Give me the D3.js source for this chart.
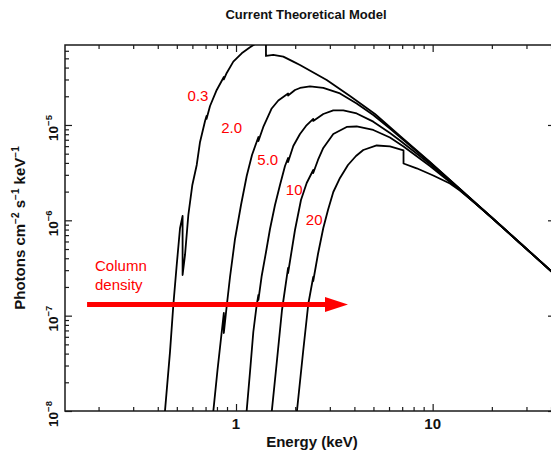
<!DOCTYPE html>
<html>
<head>
<meta charset="utf-8">
<script src="https://cdn.jsdelivr.net/npm/d3@7"></script>
<style>
  body { margin: 0; background: #fff; }
  text { font-family: "Liberation Sans", Arial, Helvetica, sans-serif; }
</style>
</head>
<body>
<svg id="chart" width="551" height="455"></svg>
<script>
// Absorbed power-law model spectra, one per column density (10^22 cm^-2).
// Each point: [energy keV, photons cm^-2 s^-1 keV^-1]
const columnDensities = ["0.3", "2.0", "5.0", "10", "20"];

const spectrumNH03 = [
  [0.4305, 7.66e-9], [0.4618, 4.19e-8], [0.480, 1.294e-7], [0.4994, 3.40e-7],
  [0.5191, 8.25e-7], [0.535, 1.110e-6], [0.535, 2.671e-7], [0.5504, 4.33e-7],
  [0.5722, 1.137e-6], [0.5997, 2.348e-6], [0.6313, 3.805e-6], [0.6562, 6.63e-6],
  [0.6959, 1.1015e-5], [0.708, 1.243e-5], [0.708, 1.156e-5], [0.7377, 1.582e-5],
  [0.7979, 2.329e-5], [0.867, 3.188e-5], [0.867, 3.001e-5], [0.8969, 3.511e-5],
  [0.9689, 4.614e-5], [1.069, 5.651e-5], [1.178, 6.533e-5], [1.274, 7.246e-5],
  [1.356, 7.423e-5], [1.42, 7.335e-5], [1.42, 5.293e-5], [1.547, 5.423e-5],
  [1.740, 5.204e-5], [1.956, 4.614e-5], [2.115, 4.260e-5], [2.892, 2.965e-5],
  [3.798, 2.015e-5], [5.090, 1.304e-5], [6.821, 7.665e-6], [9.689, 4.091e-6],
  [13.76, 2.131e-6]
];

const spectrumNH2 = [
  [0.7568, 7.66e-9], [0.8052, 2.692e-8], [0.867, 1.066e-7], [0.867, 6.58e-8],
  [0.8969, 1.263e-7], [0.9322, 2.544e-7], [0.9884, 6.37e-7], [1.0603, 1.448e-6],
  [1.1334, 2.918e-6], [1.206, 4.845e-6], [1.30, 7.484e-6], [1.30, 6.795e-6],
  [1.3764, 9.529e-6], [1.4327, 1.142e-5], [1.5187, 1.4895e-5], [1.6409, 1.807e-5],
  [1.84, 2.140e-5], [1.84, 2.039e-5], [1.995, 2.329e-5], [2.1152, 2.444e-5],
  [2.378, 2.5345e-5], [2.779, 2.444e-5], [3.379, 2.140e-5], [4.108, 1.6805e-5],
  [4.989, 1.273e-5], [6.066, 9.19e-6], [6.821, 7.484e-6], [9.689, 4.042e-6],
  [13.76, 2.131e-6]
];

const spectrumNH5 = [
  [1.1202, 7.66e-9], [1.1781, 2.564e-8], [1.2245, 6.739e-8], [1.2741, 1.294e-7],
  [1.30, 1.647e-7], [1.30, 1.460e-7], [1.3509, 2.607e-7], [1.421, 4.653e-7],
  [1.4888, 8.11e-7], [1.5785, 1.448e-6], [1.6737, 2.348e-6], [1.7747, 3.715e-6],
  [1.84, 4.506e-6], [1.84, 4.091e-6], [1.9557, 6.022e-6], [2.1152, 8.046e-6],
  [2.2692, 9.761e-6], [2.47, 1.156e-5], [2.47, 1.1015e-5], [2.7789, 1.304e-5],
  [3.1242, 1.4196e-5], [3.5125, 1.4196e-5], [4.1084, 1.3203e-5], [4.9894, 1.083e-5],
  [6.0661, 8.243e-6], [6.821, 6.878e-6], [9.689, 3.898e-6], [13.76, 2.105e-6]
];

const spectrumNH10 = [
  [1.501, 7.66e-9], [1.6066, 3.037e-8], [1.7134, 1.1465e-7], [1.84, 3.162e-7],
  [1.84, 2.802e-7], [1.995, 7.917e-7], [2.140, 1.634e-6], [2.288, 2.464e-6],
  [2.47, 3.373e-6], [2.47, 3.137e-6], [2.6115, 4.294e-6], [2.7789, 5.738e-6],
  [3.1242, 8.046e-6], [3.654, 9.529e-6], [4.1084, 9.644e-6], [4.9894, 8.862e-6],
  [6.0661, 7.395e-6], [7.11, 5.950e-6], [9.689, 3.715e-6], [13.76, 2.080e-6]
];

const spectrumNH20 = [
  [2.0138, 7.66e-9], [2.1987, 4.363e-8], [2.3312, 1.325e-7], [2.47, 2.544e-7],
  [2.47, 2.310e-7], [2.6115, 4.435e-7], [2.7789, 8.308e-7], [2.9362, 1.283e-6],
  [3.1242, 1.982e-6], [3.3793, 2.780e-6], [3.7103, 3.805e-6], [4.0746, 4.730e-6],
  [4.438, 5.467e-6], [5.192, 6.095e-6], [6.0661, 5.950e-6], [7.11, 5.401e-6],
  [7.11, 3.946e-6], [8.2926, 3.514e-6], [10.07, 2.953e-6], [12.243, 2.434e-6],
  [13.76, 2.055e-6], [16.41, 1.520e-6]
];

// Common unabsorbed power-law tail at high energies
const sharedTail = [[19.56, 1.110e-6], [27.79, 5.784e-7], [44.38, 2.424e-7]];

// Where each column-density label sits (energy, flux)
const labelAnchors = [[0.641, 1.80e-5], [0.951, 8.30e-6], [1.451, 3.805e-6], [1.976, 1.844e-6], [2.498, 8.93e-7]];

// "Column density" arrow
const arrowStart = [0.1748, 1.31e-7];
const arrowEnd = [3.71, 1.31e-7];
const arrowCaption = ["Column", "density"];
const arrowCaptionAnchor = [0.1919, 2.94e-7];

const xMajorTicks = [1, 10];
const xTickLabels = ["1", "10"];
const yMajorTicks = [1e-8, 1e-7, 1e-6, 1e-5];
const yTickExponents = ["\u22128", "\u22127", "\u22126", "\u22125"];

const energyDomain = [0.135, 41.9];
const fluxDomain = [1e-8, 6.9e-5];

const frame = { left: 65, right: 555, top: 45, bottom: 411 };

const svg = d3.select("#chart");

const x = d3.scaleLog().domain(energyDomain).range([frame.left, frame.right]);
const y = d3.scaleLog().domain(fluxDomain).range([frame.bottom, frame.top]);

// Minor ticks at 2..9 times each decade
function minorTicks(domain) {
  const out = [];
  const lo = Math.floor(Math.log10(domain[0]));
  const hi = Math.ceil(Math.log10(domain[1]));
  for (let d = lo; d <= hi; d++) {
    for (let k = 2; k <= 9; k++) {
      const v = k * Math.pow(10, d);
      if (v >= domain[0] && v <= domain[1]) out.push(v);
    }
  }
  return out;
}
const xMinor = minorTicks(energyDomain);
const yMinor = minorTicks(fluxDomain);

const tickColor = "#1a1a1a";

function styleAxis(g) {
  g.select(".domain").remove();
  g.selectAll(".tick line").attr("stroke", tickColor).attr("stroke-width", 1.2);
  g.selectAll(".tick text").remove();
}

// Bottom / top axes (ticks point inward)
svg.append("g").attr("transform", `translate(0,${frame.bottom})`)
  .call(d3.axisBottom(x).tickValues(xMinor).tickSize(-4)).call(styleAxis);
svg.append("g").attr("transform", `translate(0,${frame.bottom})`)
  .call(d3.axisBottom(x).tickValues(xMajorTicks).tickSize(-7)).call(styleAxis);
svg.append("g").attr("transform", `translate(0,${frame.top})`)
  .call(d3.axisTop(x).tickValues(xMinor).tickSize(-4)).call(styleAxis);
svg.append("g").attr("transform", `translate(0,${frame.top})`)
  .call(d3.axisTop(x).tickValues(xMajorTicks).tickSize(-7)).call(styleAxis);

// Left / right axes
svg.append("g").attr("transform", `translate(${frame.left},0)`)
  .call(d3.axisLeft(y).tickValues(yMinor).tickSize(-4)).call(styleAxis);
svg.append("g").attr("transform", `translate(${frame.left},0)`)
  .call(d3.axisLeft(y).tickValues(yMajorTicks).tickSize(-7)).call(styleAxis);
svg.append("g").attr("transform", `translate(${frame.right},0)`)
  .call(d3.axisRight(y).tickValues(yMinor).tickSize(-4)).call(styleAxis);
svg.append("g").attr("transform", `translate(${frame.right},0)`)
  .call(d3.axisRight(y).tickValues(yMajorTicks).tickSize(-7)).call(styleAxis);

// Plot frame
svg.append("rect")
  .attr("x", frame.left).attr("y", frame.top)
  .attr("width", frame.right - frame.left).attr("height", frame.bottom - frame.top)
  .attr("fill", "none").attr("stroke", tickColor).attr("stroke-width", 1.5);

// X tick labels
svg.append("g").selectAll("text").data(xMajorTicks).join("text")
  .attr("x", d => x(d)).attr("y", frame.bottom + 17.5)
  .attr("text-anchor", "middle").attr("font-size", 15).attr("font-weight", "bold")
  .attr("fill", "#111")
  .text((d, i) => xTickLabels[i]);

// Y tick labels: 10 with a superscript exponent, rotated
const yLab = svg.append("g").selectAll("text").data(yMajorTicks).join("text")
  .attr("transform", d => `translate(${frame.left - 7},${y(d) + 3}) rotate(-90)`)
  .attr("text-anchor", "middle").attr("font-size", 13.5).attr("font-weight", "bold")
  .attr("fill", "#111");
yLab.append("tspan").text("10");
yLab.append("tspan").attr("font-size", 9.5).attr("dy", -6).text((d, i) => yTickExponents[i]);

// Curves
const clipId = "plot-clip";
svg.append("clipPath").attr("id", clipId).append("rect")
  .attr("x", frame.left).attr("y", frame.top)
  .attr("width", frame.right - frame.left).attr("height", frame.bottom - frame.top);

const line = d3.line().x(d => x(d[0])).y(d => y(d[1]));
const spectra = [spectrumNH03, spectrumNH2, spectrumNH5, spectrumNH10, spectrumNH20];

svg.append("g").attr("clip-path", `url(#${clipId})`)
  .selectAll("path").data(spectra).join("path")
  .attr("d", s => line(s.concat(sharedTail)))
  .attr("fill", "none").attr("stroke", "#000").attr("stroke-width", 1.8)
  .attr("stroke-linejoin", "round");

// Column-density labels
svg.append("g").selectAll("text").data(columnDensities).join("text")
  .attr("x", (d, i) => x(labelAnchors[i][0])).attr("y", (d, i) => y(labelAnchors[i][1]))
  .attr("text-anchor", "middle").attr("font-size", 15).attr("fill", "#ff0000")
  .text(d => d);

// Arrow
const red = "#ff0000";
const headLen = 23, headHalf = 7.5;
const ax0 = x(arrowStart[0]), ax1 = x(arrowEnd[0]), ay = y(arrowStart[1]);
svg.append("line")
  .attr("x1", ax0).attr("x2", ax1 - headLen + 1).attr("y1", ay).attr("y2", ay)
  .attr("stroke", red).attr("stroke-width", 5);
svg.append("path")
  .attr("d", `M${ax1},${ay} L${ax1 - headLen},${ay - headHalf} L${ax1 - headLen},${ay + headHalf} Z`)
  .attr("fill", red);

svg.append("text")
  .attr("x", x(arrowCaptionAnchor[0])).attr("y", y(arrowCaptionAnchor[1]))
  .attr("font-size", 15).attr("fill", red)
  .selectAll("tspan").data(arrowCaption).join("tspan")
  .attr("x", x(arrowCaptionAnchor[0])).attr("dy", (d, i) => i === 0 ? 0 : 19)
  .text(d => d);

// Titles
svg.append("text").attr("x", 306).attr("y", 19)
  .attr("text-anchor", "middle").attr("font-size", 13).attr("font-weight", "bold")
  .attr("fill", "#111").text("Current Theoretical Model");

svg.append("text").attr("x", 312).attr("y", 447)
  .attr("text-anchor", "middle").attr("font-size", 15).attr("font-weight", "bold")
  .attr("fill", "#111").text("Energy (keV)");

const yTitle = svg.append("text")
  .attr("transform", `translate(25,${(frame.top + frame.bottom) / 2}) rotate(-90)`)
  .attr("text-anchor", "middle").attr("font-size", 15).attr("font-weight", "bold")
  .attr("fill", "#111");
const yTitleParts = [["Photons cm", false], ["\u22122", true], [" s", false], ["\u22121", true], [" keV", false], ["\u22121", true]];
yTitle.selectAll("tspan").data(yTitleParts).join("tspan")
  .attr("font-size", d => d[1] ? 10 : 15)
  .attr("dy", (d, i) => {
    if (d[1]) return -6;
    return i === 0 ? 0 : 6;
  })
  .text(d => d[0]);
</script>
</body>
</html>
